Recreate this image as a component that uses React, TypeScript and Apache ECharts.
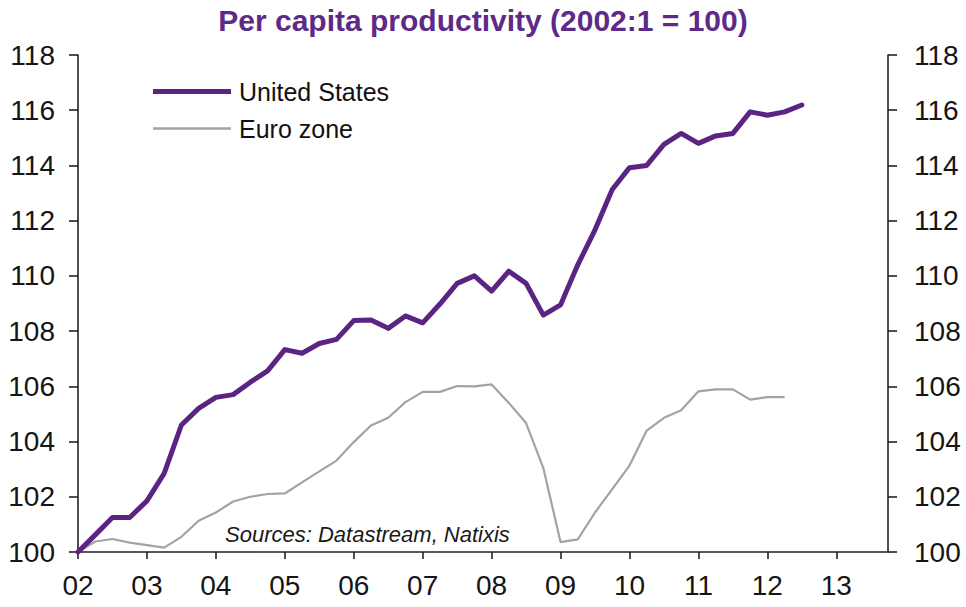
import React, { useEffect, useRef } from "react";
import * as echarts from "echarts";

const years = ["02", "03", "04", "05", "06", "07", "08", "09", "10", "11", "12", "13"];
const quarters = ["1", "2", "3", "4"];
const categories: string[] = years.flatMap((y) => quarters.map((q) => `${y}:${q}`));

const unitedStates = [
  100, 100.62, 101.25, 101.25,
  101.85, 102.85, 104.6, 105.2,
  105.6, 105.7, 106.15, 106.56,
  107.33, 107.2, 107.55, 107.7,
  108.38, 108.4, 108.1, 108.55,
  108.3, 108.98, 109.73, 110.0,
  109.45, 110.17, 109.73, 108.58,
  108.95, 110.4, 111.67, 113.13,
  113.92, 114.0, 114.76, 115.16,
  114.8, 115.07, 115.16, 115.94,
  115.82, 115.94, 116.19,
];

const euroZone = [
  100, 100.38, 100.47, 100.34,
  100.25, 100.16, 100.55, 101.13,
  101.43, 101.83, 102.0, 102.1,
  102.12, 102.52, 102.92, 103.31,
  103.98, 104.58, 104.86, 105.43,
  105.8, 105.8, 106.01, 106.0,
  106.07, 105.4, 104.67, 103.04,
  100.36, 100.46, 101.43, 102.28,
  103.13, 104.4, 104.86, 105.13,
  105.82, 105.89, 105.89, 105.52,
  105.61, 105.61,
];

const titleText = "Per capita productivity (2002:1 = 100)";
const sourceText = "Sources: Datastream, Natixis";
const FONT = "'Liberation Sans', Arial, sans-serif";

export default function App() {
  const ref = useRef<HTMLDivElement>(null);
  useEffect(() => {
    if (!ref.current) return;
    const chart = echarts.init(ref.current, null, { renderer: "svg" });
    const yAxisBase = {
      type: "value" as const,
      min: 100,
      max: 118,
      interval: 2,
      splitLine: { show: false },
      axisLine: { show: true, lineStyle: { color: "#222", width: 1.6 } },
      axisTick: { show: true, length: 9, lineStyle: { color: "#222", width: 1.6 } },
    };
    const labelStyle = { color: "#151515", fontSize: 28, fontFamily: FONT };
    chart.setOption({
      animation: false,
      backgroundColor: "#fff",
      textStyle: { fontFamily: FONT },
      title: {
        text: titleText,
        left: "center",
        top: 0,
        textStyle: { color: "#5d2a87", fontSize: 30, fontWeight: "bold", fontFamily: FONT },
      },
      legend: {
        orient: "vertical",
        left: 148,
        top: 74,
        itemWidth: 78,
        itemHeight: 20,
        itemGap: 12,
        textStyle: { color: "#111", fontSize: 25, fontFamily: FONT, padding: [0, 0, 0, 3] },
        data: [
          { name: "United States", icon: "path://M0,0 L78,0 L78,5 L0,5 Z" },
          { name: "Euro zone", icon: "path://M0,0 L78,0 L78,2.4 L0,2.4 Z" },
        ],
      },
      grid: { left: 78, right: 78, top: 55, bottom: 55, containLabel: false },
      xAxis: {
        type: "category",
        data: categories,
        boundaryGap: false,
        axisLine: { lineStyle: { color: "#222", width: 1.6 } },
        axisTick: { interval: 3, length: 7, lineStyle: { color: "#222", width: 1.6 } },
        axisLabel: {
          ...labelStyle,
          interval: 3,
          margin: 19,
          formatter: (v: string) => v.split(":")[0],
        },
      },
      yAxis: [
        { ...yAxisBase, position: "left", axisLabel: { ...labelStyle, margin: 23 } },
        { ...yAxisBase, position: "right", axisLabel: { ...labelStyle, margin: 26 } },
      ],
      graphic: [
        {
          type: "text",
          left: 225,
          top: 523,
          style: {
            text: sourceText,
            fontSize: 22,
            fontStyle: "italic",
            fontFamily: FONT,
            fill: "#1a1a1a",
          },
        },
      ],
      series: [
        {
          name: "United States",
          type: "line",
          data: unitedStates,
          symbol: "none",
          lineStyle: { color: "#5b2483", width: 5, cap: "round", join: "round" },
          itemStyle: { color: "#5b2483" },
          z: 3,
        },
        {
          name: "Euro zone",
          type: "line",
          data: euroZone,
          symbol: "none",
          lineStyle: { color: "#a3a3a3", width: 2.2 },
          itemStyle: { color: "#a3a3a3" },
          z: 2,
        },
      ],
    });
    return () => chart.dispose();
  }, []);
  return (
    <div
      ref={ref}
      style={{ position: "fixed", left: 0, top: 0, width: 966, height: 607 }}
    />
  );
}
